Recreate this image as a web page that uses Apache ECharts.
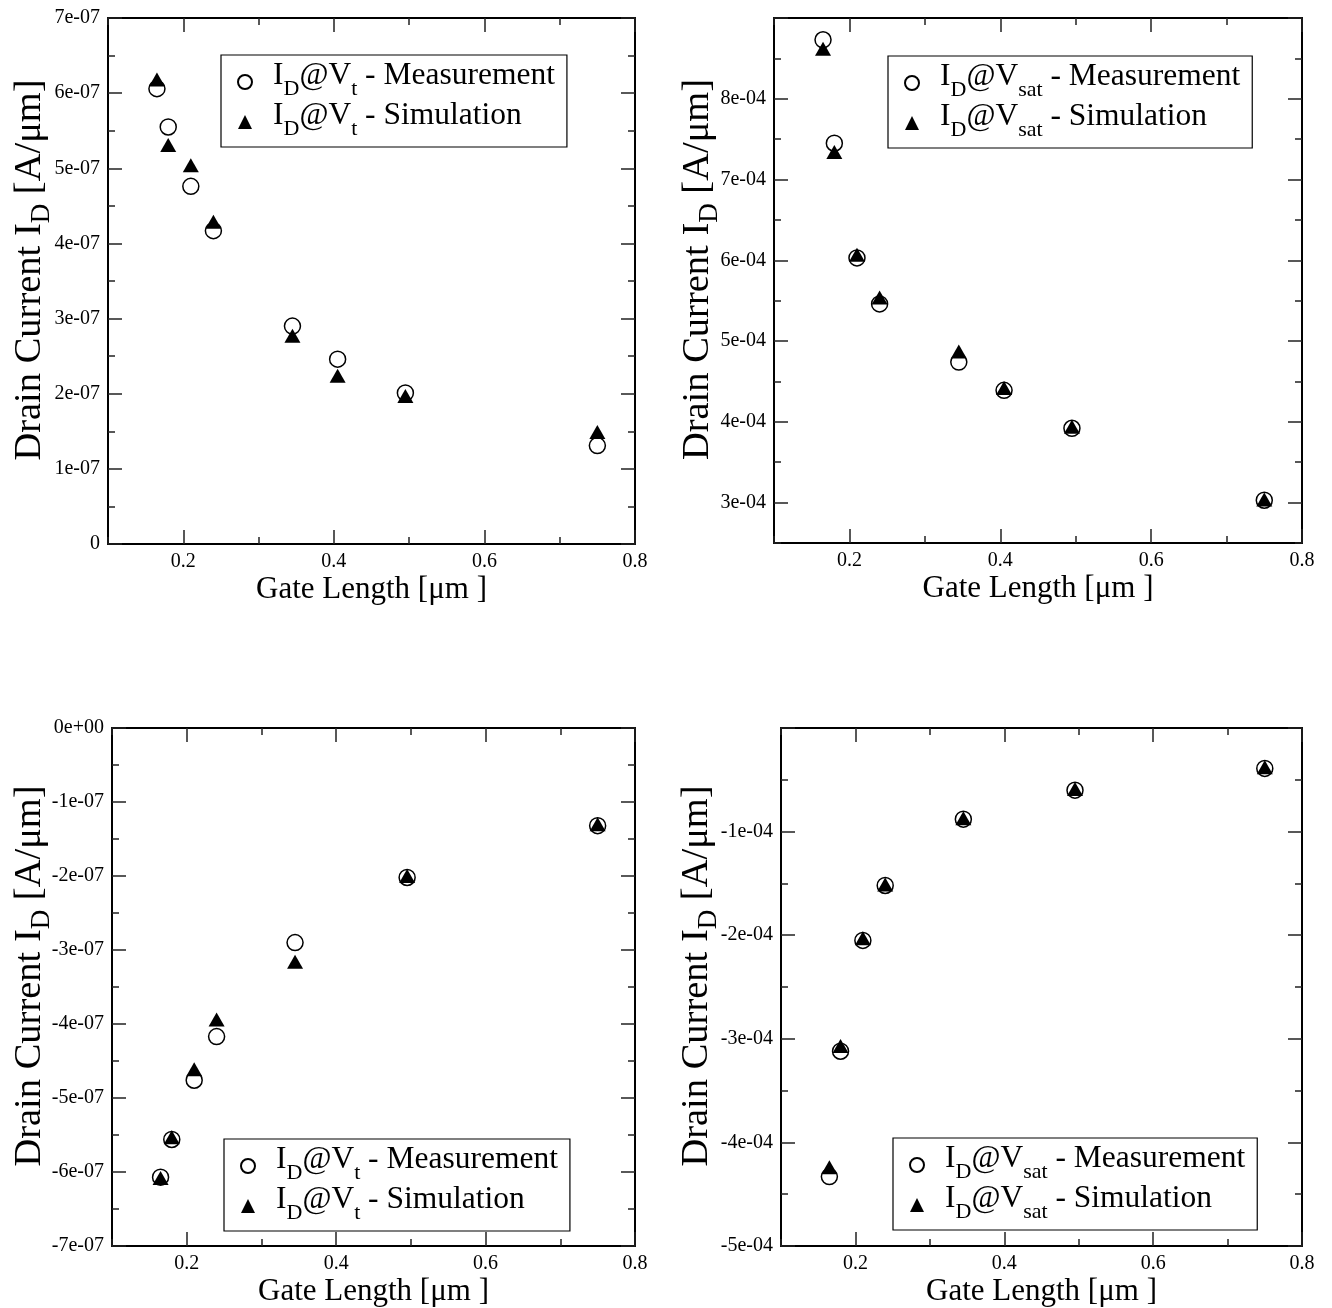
<!DOCTYPE html>
<html><head><meta charset="utf-8">
<script src="https://cdn.jsdelivr.net/npm/echarts@6/dist/echarts.min.js"></script>
<style>html,body{margin:0;padding:0;background:#fff}#c{width:1332px;height:1308px}</style>
</head><body><div id="c"></div>
<script>
// ---------- data ----------
const gateLengthN = [0.165, 0.18, 0.21, 0.24, 0.345, 0.405, 0.495, 0.75];
const gateLengthP = [0.165, 0.18, 0.21, 0.24, 0.345, 0.495, 0.75];

const nVtMeas   = [6.06e-7, 5.55e-7, 4.76e-7, 4.17e-7, 2.90e-7, 2.46e-7, 2.01e-7, 1.31e-7];
const nVtSim    = [6.18e-7, 5.31e-7, 5.04e-7, 4.29e-7, 2.77e-7, 2.24e-7, 1.97e-7, 1.49e-7];
const nVsatMeas = [8.73e-4, 7.45e-4, 6.03e-4, 5.46e-4, 4.74e-4, 4.39e-4, 3.92e-4, 3.03e-4];
const nVsatSim  = [8.62e-4, 7.34e-4, 6.07e-4, 5.54e-4, 4.87e-4, 4.42e-4, 3.94e-4, 3.04e-4];
const pVtMeas   = [-6.07e-7, -5.56e-7, -4.76e-7, -4.17e-7, -2.90e-7, -2.02e-7, -1.32e-7];
const pVtSim    = [-6.08e-7, -5.53e-7, -4.61e-7, -3.94e-7, -3.16e-7, -2.00e-7, -1.30e-7];
const pVsatMeas = [-4.33e-4, -3.12e-4, -2.05e-4, -1.52e-4, -0.88e-4, -0.60e-4, -0.39e-4];
const pVsatSim  = [-4.24e-4, -3.07e-4, -2.03e-4, -1.51e-4, -0.87e-4, -0.59e-4, -0.38e-4];

// ---------- tick labels ----------
const xTickValues = [0.2, 0.4, 0.6, 0.8];
const xTickLabels = ['0.2', '0.4', '0.6', '0.8'];
const yTickValues1 = [0, 1e-7, 2e-7, 3e-7, 4e-7, 5e-7, 6e-7, 7e-7];
const yTickLabels1 = ['0', '1e-07', '2e-07', '3e-07', '4e-07', '5e-07', '6e-07', '7e-07'];
const yTickValues2 = [3e-4, 4e-4, 5e-4, 6e-4, 7e-4, 8e-4];
const yTickLabels2 = ['3e-04', '4e-04', '5e-04', '6e-04', '7e-04', '8e-04'];
const yTickValues3 = [0, -1e-7, -2e-7, -3e-7, -4e-7, -5e-7, -6e-7, -7e-7];
const yTickLabels3 = ['0e+00', '-1e-07', '-2e-07', '-3e-07', '-4e-07', '-5e-07', '-6e-07', '-7e-07'];
const yTickValues4 = [-1e-4, -2e-4, -3e-4, -4e-4, -5e-4];
const yTickLabels4 = ['-1e-04', '-2e-04', '-3e-04', '-4e-04', '-5e-04'];
const yMajor4 = [0, -1e-4, -2e-4, -3e-4, -4e-4, -5e-4];
const yMajor2 = [3e-4, 4e-4, 5e-4, 6e-4, 7e-4, 8e-4, 9e-4];

const FONT = 'Liberation Serif';

function lookup(vals, labels) {
  return function (v) {
    let best = -1, bd = Infinity;
    vals.forEach((t, i) => { const d = Math.abs(t - v); if (d < bd) { bd = d; best = i; } });
    const span = Math.abs(vals[vals.length - 1] - vals[0]) || 1;
    return bd < span * 1e-6 ? labels[best] : '';
  };
}

const panels = [
  { grid: { left: 108, top: 18, width: 527, height: 526 },
    y: { min: 0, max: 7e-7, step: 0.5e-7, major: yTickValues1, lv: yTickValues1, ll: yTickLabels1 },
    x: gateLengthN, meas: nVtMeas, sim: nVtSim, sub: 't',
    legend: { left: 221, top: 55 }, nameGap: 53 },
  { grid: { left: 774, top: 18, width: 528, height: 525 },
    y: { min: 2.5e-4, max: 9e-4, step: 0.5e-4, major: yMajor2, lv: yTickValues2, ll: yTickLabels2 },
    x: gateLengthN, meas: nVsatMeas, sim: nVsatSim, sub: 'sat',
    legend: { left: 888, top: 56 }, nameGap: 51 },
  { grid: { left: 112, top: 728, width: 523, height: 522 },
    y: { min: -7e-7, max: 0, step: 0.5e-7, major: yTickValues3, lv: yTickValues3, ll: yTickLabels3 },
    x: gateLengthP, meas: pVtMeas, sim: pVtSim, sub: 't',
    legend: { left: 224, top: 1139 }, nameGap: 57 },
  { grid: { left: 781, top: 728, width: 521, height: 522 },
    y: { min: -5e-4, max: 0, step: 0.5e-4, major: yMajor4, lv: yTickValues4, ll: yTickLabels4 },
    x: gateLengthP, meas: pVsatMeas, sim: pVsatSim, sub: 'sat',
    legend: { left: 893, top: 1138 }, nameGap: 59 }
];

const tickStyle = { color: '#222', width: 1.5 };
const lineStyle = { color: '#000', width: 2 };
const richName = {
  f: { fontSize: 38.5, fontFamily: FONT, color: '#000', padding: [0, 0, 0, 22] },
  m: { fontSize: 38.5, fontFamily: FONT, color: '#000' },
  s: { fontSize: 27, fontFamily: FONT, color: '#000', padding: [24, 0, 0, 0] }
};

const grids = [], xAxes = [], yAxes = [], series = [], legends = [];

panels.forEach((p, gi) => {
  grids.push(Object.assign({ containLabel: false }, p.grid));
  const xBase = xAxes.length;
  ['bottom', 'top'].forEach((pos) => {
    [false, true].forEach((major) => {
      const isMain = pos === 'bottom' && !major;
      xAxes.push({
        type: 'value', gridIndex: gi, position: pos, min: 0.1, max: 0.8, interval: 0.1,
        axisLine: { show: !major, onZero: false, lineStyle: lineStyle },
        axisTick: major
          ? { show: true, inside: true, length: 14, lineStyle: tickStyle, customValues: xTickValues }
          : { show: true, inside: true, length: 7, lineStyle: tickStyle },
        axisLabel: isMain
          ? { show: true, customValues: xTickValues, formatter: lookup(xTickValues, xTickLabels),
              margin: 8, fontFamily: FONT, fontSize: 20, color: '#000' }
          : { show: false },
        splitLine: { show: false },
        name: isMain ? 'Gate Length [μm ]' : '',
        nameLocation: 'middle', nameGap: 30, nameMoveOverlap: false,
        nameTextStyle: { fontFamily: FONT, fontSize: 31, color: '#000' }
      });
    });
  });
  const yBase = yAxes.length;
  ['left', 'right'].forEach((pos) => {
    [false, true].forEach((major) => {
      const isMain = pos === 'left' && !major;
      yAxes.push({
        type: 'value', gridIndex: gi, position: pos, min: p.y.min, max: p.y.max, interval: p.y.step,
        axisLine: { show: !major, onZero: false, lineStyle: lineStyle },
        axisTick: major
          ? { show: true, inside: true, length: 14, lineStyle: tickStyle, customValues: p.y.major }
          : { show: true, inside: true, length: 7, lineStyle: tickStyle },
        axisLabel: isMain
          ? { show: true, customValues: p.y.lv, formatter: lookup(p.y.lv, p.y.ll),
              margin: 8, fontFamily: FONT, fontSize: 20, color: '#000' }
          : { show: false },
        splitLine: { show: false },
        name: isMain ? '{f|Drain Current I}{s|D}{m| [A/μm]}' : '',
        nameLocation: 'middle', nameGap: p.nameGap, nameRotate: 90, nameMoveOverlap: false,
        nameTextStyle: { fontFamily: FONT, fontSize: 38.5, color: '#000', rich: richName }
      });
    });
  });
  const nm = 'p' + gi + '-meas', ns = 'p' + gi + '-sim';
  series.push({
    name: nm, type: 'scatter', xAxisIndex: xBase, yAxisIndex: yBase,
    symbol: 'circle', symbolSize: 16,
    itemStyle: { color: '#fff', borderColor: '#000', borderWidth: 1.5, opacity: 1 },
    data: p.x.map((x, i) => [x, p.meas[i]]), z: 3
  });
  series.push({
    name: ns, type: 'scatter', xAxisIndex: xBase, yAxisIndex: yBase,
    symbol: 'triangle', symbolSize: [16, 14],
    itemStyle: { color: '#000', opacity: 1 },
    data: p.x.map((x, i) => [x, p.sim[i]]), z: 4
  });
  const sub = p.sub;
  legends.push({
    orient: 'vertical', left: p.legend.left, top: p.legend.top,
    padding: [5, 12, 7, 16], itemGap: 0, itemWidth: 14, itemHeight: 14,
    borderColor: '#000', borderWidth: 1.2, backgroundColor: '#fff',
    selectedMode: false, data: [nm, ns],
    formatter: (name) => '{p|I}{s|D}{m|@V}{s|' + sub + '}{m| - ' + (name.endsWith('meas') ? 'Measurement' : 'Simulation') + '}',
    textStyle: {
      fontFamily: FONT, fontSize: 31.5, color: '#000',
      rich: {
        p: { fontSize: 31.5, fontFamily: FONT, color: '#000', padding: [0, 0, 12, 16] },
        m: { fontSize: 31.5, fontFamily: FONT, color: '#000', padding: [0, 0, 12, 0] },
        s: { fontSize: 22, fontFamily: FONT, color: '#000', padding: [14, 0, 0, 0] }
      }
    }
  });
});

const chart = echarts.init(document.getElementById('c'), null, { renderer: 'canvas' });
chart.setOption({
  animation: false,
  backgroundColor: '#fff',
  grid: grids, xAxis: xAxes, yAxis: yAxes, series: series, legend: legends
});
</script></body></html>
